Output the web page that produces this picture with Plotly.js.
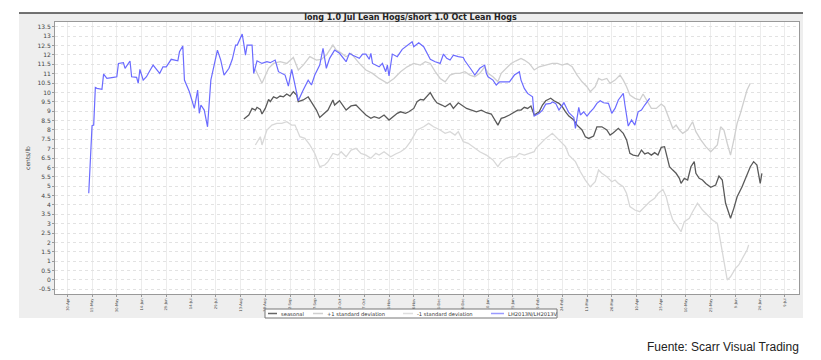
<!DOCTYPE html>
<html>
<head>
<meta charset="utf-8">
<script src="https://cdn.plot.ly/plotly-3.0.1.min.js"></script>
<style>
  html, body { margin: 0; padding: 0; background: #ffffff; }
  #chart { width: 821px; height: 360px; }
</style>
</head>
<body>
<div id="chart"></div>
<script>
// ---- Data ----
const spreadName = "LH2013N/LH2013V";
const spreadDates = ["2012-05-13","2012-05-15","2012-05-16","2012-05-17","2012-05-18","2012-05-21","2012-05-22","2012-05-24","2012-05-28","2012-05-30","2012-05-31","2012-06-03","2012-06-04","2012-06-07","2012-06-08","2012-06-11","2012-06-12","2012-06-13","2012-06-15","2012-06-17","2012-06-19","2012-06-21","2012-06-25","2012-06-27","2012-06-29","2012-07-02","2012-07-06","2012-07-07","2012-07-09","2012-07-10","2012-07-13","2012-07-16","2012-07-18","2012-07-19","2012-07-20","2012-07-22","2012-07-24","2012-07-26","2012-07-30","2012-08-01","2012-08-03","2012-08-06","2012-08-08","2012-08-10","2012-08-11","2012-08-14","2012-08-15","2012-08-16","2012-08-17","2012-08-20","2012-08-21","2012-08-23","2012-08-26","2012-08-29","2012-08-31","2012-09-03","2012-09-05","2012-09-09","2012-09-11","2012-09-13","2012-09-15","2012-09-17","2012-09-20","2012-09-23","2012-09-25","2012-09-27","2012-09-30","2012-10-02","2012-10-04","2012-10-06","2012-10-09","2012-10-12","2012-10-16","2012-10-18","2012-10-20","2012-10-24","2012-10-26","2012-10-28","2012-10-30","2012-10-31","2012-11-01","2012-11-05","2012-11-07","2012-11-09","2012-11-10","2012-11-11","2012-11-13","2012-11-16","2012-11-19","2012-11-22","2012-11-25","2012-11-26","2012-11-29","2012-12-02","2012-12-06","2012-12-09","2012-12-12","2012-12-14","2012-12-16","2012-12-18","2012-12-20","2012-12-23","2012-12-26","2012-12-27","2012-12-29","2012-12-31","2013-01-02","2013-01-05","2013-01-08","2013-01-09","2013-01-10","2013-01-13","2013-01-15","2013-01-17","2013-01-20","2013-01-23","2013-01-26","2013-01-29","2013-01-30","2013-02-01","2013-02-03","2013-02-06","2013-02-07","2013-02-10","2013-02-12","2013-02-14","2013-02-17","2013-02-18","2013-02-20","2013-02-22","2013-02-25","2013-02-28","2013-03-03","2013-03-04","2013-03-06","2013-03-07","2013-03-09","2013-03-11","2013-03-13","2013-03-15","2013-03-17","2013-03-19","2013-03-21","2013-03-24","2013-03-26","2013-03-28","2013-03-30","2013-04-02","2013-04-03","2013-04-05","2013-04-07","2013-04-09","2013-04-11","2013-04-13","2013-04-15","2013-04-18"];
const spreadValues = [4.62,8.23,8.26,10.27,10.22,10.17,10.98,10.75,10.81,10.84,11.55,11.59,11.29,11.68,10.84,10.81,10.49,11.23,10.66,10.84,11.16,11.46,11.02,11.37,11.37,11.77,11.69,12.17,12.48,10.66,10.04,9.15,10.13,8.89,9.33,9.06,8.17,10.66,12.26,11.73,10.93,11.29,11.77,12.53,12.53,13.12,12.58,11.99,12.53,12.53,11.02,11.69,11.55,11.64,11.59,11.73,11.11,10.93,10.34,11.23,10.40,9.56,10.13,10.66,10.40,10.93,11.46,12.35,11.29,11.82,12.26,12.09,11.64,12.09,11.99,11.82,12.05,12.05,11.77,12.09,11.55,11.37,11.55,11.11,11.46,10.88,12.05,11.91,12.30,12.53,12.71,12.44,12.65,12.44,11.77,11.64,11.55,12.05,11.82,11.73,11.99,11.91,11.87,11.69,11.46,11.20,10.93,11.29,11.46,11.02,10.84,10.66,10.40,10.57,10.57,10.57,10.93,11.11,10.66,10.22,9.95,9.77,8.74,8.89,9.06,9.38,9.42,9.50,9.42,9.06,9.45,8.92,8.67,8.09,9.21,8.80,8.97,8.74,8.97,9.15,9.42,9.56,9.45,9.42,8.89,9.15,9.60,9.95,9.33,8.21,8.53,8.26,8.97,9.06,9.33,9.69];

const seasonalName = "seasonal";
const seasonalDates = ["2012-08-15","2012-08-18","2012-08-20","2012-08-22","2012-08-23","2012-08-25","2012-08-26","2012-08-28","2012-08-30","2012-08-31","2012-09-02","2012-09-04","2012-09-06","2012-09-08","2012-09-10","2012-09-12","2012-09-14","2012-09-16","2012-09-17","2012-09-20","2012-09-23","2012-09-26","2012-09-28","2012-09-30","2012-10-03","2012-10-05","2012-10-08","2012-10-09","2012-10-12","2012-10-14","2012-10-16","2012-10-19","2012-10-22","2012-10-25","2012-10-28","2012-10-31","2012-11-02","2012-11-05","2012-11-08","2012-11-11","2012-11-14","2012-11-16","2012-11-18","2012-11-21","2012-11-23","2012-11-26","2012-11-28","2012-11-30","2012-12-02","2012-12-04","2012-12-06","2012-12-08","2012-12-10","2012-12-13","2012-12-15","2012-12-18","2012-12-20","2012-12-23","2012-12-26","2012-12-28","2012-12-31","2013-01-03","2013-01-06","2013-01-09","2013-01-12","2013-01-14","2013-01-16","2013-01-18","2013-01-20","2013-01-23","2013-01-25","2013-01-28","2013-01-30","2013-02-01","2013-02-03","2013-02-05","2013-02-07","2013-02-10","2013-02-12","2013-02-14","2013-02-17","2013-02-19","2013-02-22","2013-02-24","2013-02-26","2013-02-28","2013-03-03","2013-03-05","2013-03-08","2013-03-10","2013-03-12","2013-03-15","2013-03-17","2013-03-20","2013-03-23","2013-03-25","2013-03-27","2013-03-29","2013-03-30","2013-04-02","2013-04-04","2013-04-06","2013-04-08","2013-04-11","2013-04-13","2013-04-15","2013-04-17","2013-04-19","2013-04-21","2013-04-23","2013-04-25","2013-04-27","2013-04-29","2013-04-30","2013-05-02","2013-05-04","2013-05-06","2013-05-07","2013-05-09","2013-05-11","2013-05-13","2013-05-15","2013-05-16","2013-05-18","2013-05-20","2013-05-22","2013-05-25","2013-05-28","2013-05-30","2013-06-01","2013-06-03","2013-06-06","2013-06-08","2013-06-10","2013-06-13","2013-06-15","2013-06-18","2013-06-20","2013-06-22","2013-06-24","2013-06-25"];
const seasonalValues = [8.58,8.80,9.15,9.06,9.21,9.10,8.85,9.15,9.63,9.51,9.77,9.69,9.81,9.77,9.92,9.81,10.04,9.86,9.51,9.60,9.77,9.33,9.06,8.67,8.89,9.06,9.60,9.33,9.56,9.33,9.06,9.28,9.33,9.06,8.80,8.62,8.71,8.62,8.80,8.53,8.74,8.89,8.97,8.89,8.97,9.15,9.51,9.63,9.60,9.81,9.99,9.69,9.45,9.33,9.24,9.42,9.15,9.45,9.24,9.15,9.06,8.97,9.06,8.92,8.85,8.56,8.26,8.62,8.67,8.80,8.89,9.06,9.06,9.21,9.15,9.28,8.80,8.97,9.33,9.56,9.69,9.56,9.42,9.24,8.97,8.74,8.53,8.26,8.00,7.64,7.55,7.68,8.17,8.17,8.00,7.73,7.85,8.00,8.09,7.82,7.47,6.75,6.66,6.61,6.93,6.72,6.79,6.66,6.79,6.66,7.07,7.11,6.49,6.04,5.86,5.69,5.42,5.15,5.42,5.33,6.04,6.31,5.69,5.42,5.33,5.15,4.94,5.06,5.54,5.33,4.09,3.29,3.82,4.44,4.97,5.42,6.04,6.31,6.13,5.15,5.69];

const upperName = "+1 standard deviation";
const upperDates = ["2012-08-22","2012-08-26","2012-08-30","2012-09-02","2012-09-06","2012-09-10","2012-09-14","2012-09-17","2012-09-20","2012-09-24","2012-09-28","2012-10-01","2012-10-04","2012-10-08","2012-10-10","2012-10-12","2012-10-16","2012-10-19","2012-10-24","2012-10-28","2012-11-01","2012-11-05","2012-11-10","2012-11-14","2012-11-18","2012-11-22","2012-11-26","2012-11-30","2012-12-03","2012-12-06","2012-12-09","2012-12-12","2012-12-15","2012-12-18","2012-12-21","2012-12-24","2012-12-27","2012-12-30","2013-01-02","2013-01-05","2013-01-08","2013-01-10","2013-01-13","2013-01-16","2013-01-18","2013-01-21","2013-01-24","2013-01-27","2013-01-30","2013-02-01","2013-02-04","2013-02-07","2013-02-10","2013-02-14","2013-02-18","2013-02-21","2013-02-24","2013-02-27","2013-03-02","2013-03-05","2013-03-08","2013-03-11","2013-03-13","2013-03-16","2013-03-18","2013-03-20","2013-03-23","2013-03-25","2013-03-28","2013-03-31","2013-04-02","2013-04-04","2013-04-06","2013-04-09","2013-04-12","2013-04-14","2013-04-16","2013-04-19","2013-04-22","2013-04-25","2013-04-27","2013-04-30","2013-05-02","2013-05-04","2013-05-06","2013-05-08","2013-05-11","2013-05-14","2013-05-16","2013-05-19","2013-05-22","2013-05-25","2013-05-29","2013-05-31","2013-06-02","2013-06-04","2013-06-06","2013-06-08","2013-06-10","2013-06-12","2013-06-14","2013-06-16","2013-06-18"];
const upperValues = [11.23,10.49,11.29,11.55,11.64,11.55,11.87,11.20,11.46,11.91,11.73,11.77,11.99,12.53,12.26,12.17,11.91,12.09,11.55,11.20,11.02,10.75,10.49,10.75,11.11,11.37,11.55,11.46,11.64,11.55,11.11,10.75,10.57,10.93,11.02,11.02,11.11,10.93,10.84,11.02,11.37,11.02,10.84,10.57,11.02,11.29,11.55,11.69,11.82,11.73,11.55,11.20,11.37,11.46,11.55,11.55,11.46,11.55,11.37,10.93,10.57,10.31,10.04,10.31,10.75,10.66,10.75,10.49,10.66,10.93,10.66,10.31,9.86,9.69,9.60,9.92,9.60,9.15,9.15,9.38,9.24,8.53,8.09,8.26,8.00,7.82,8.00,8.44,7.91,7.47,7.11,6.84,7.20,8.17,8.00,7.29,6.66,7.47,8.35,8.89,9.51,10.13,10.49];

const lowerName = "-1 standard deviation";
const lowerDates = ["2012-08-22","2012-08-25","2012-08-26","2012-08-29","2012-09-01","2012-09-04","2012-09-07","2012-09-10","2012-09-13","2012-09-15","2012-09-18","2012-09-21","2012-09-24","2012-09-27","2012-09-30","2012-10-03","2012-10-05","2012-10-08","2012-10-11","2012-10-13","2012-10-16","2012-10-19","2012-10-22","2012-10-25","2012-10-28","2012-10-31","2012-11-03","2012-11-05","2012-11-08","2012-11-12","2012-11-15","2012-11-18","2012-11-21","2012-11-24","2012-11-28","2012-12-02","2012-12-05","2012-12-08","2012-12-12","2012-12-15","2012-12-18","2012-12-21","2012-12-23","2012-12-26","2012-12-29","2013-01-02","2013-01-05","2013-01-09","2013-01-13","2013-01-16","2013-01-18","2013-01-21","2013-01-24","2013-01-27","2013-01-29","2013-02-01","2013-02-04","2013-02-07","2013-02-08","2013-02-11","2013-02-14","2013-02-18","2013-02-20","2013-02-23","2013-02-26","2013-02-28","2013-03-04","2013-03-07","2013-03-10","2013-03-13","2013-03-16","2013-03-18","2013-03-20","2013-03-23","2013-03-26","2013-03-28","2013-03-30","2013-04-02","2013-04-04","2013-04-06","2013-04-09","2013-04-12","2013-04-15","2013-04-18","2013-04-21","2013-04-23","2013-04-26","2013-04-28","2013-04-30","2013-05-02","2013-05-05","2013-05-07","2013-05-09","2013-05-12","2013-05-14","2013-05-17","2013-05-20","2013-05-23","2013-05-26","2013-05-29","2013-05-31","2013-06-02","2013-06-04","2013-06-06","2013-06-09","2013-06-11","2013-06-14","2013-06-16","2013-06-17"];
const lowerValues = [7.20,7.64,7.20,8.00,8.26,8.35,8.35,8.44,8.26,8.26,7.64,7.55,7.20,6.75,6.04,6.13,6.31,6.75,6.66,6.84,6.57,6.93,7.02,6.75,6.66,6.49,6.75,6.66,6.84,6.57,6.72,6.84,7.02,7.38,8.00,8.17,8.35,8.17,8.00,7.82,7.91,7.73,7.91,7.38,7.29,7.02,6.84,6.66,6.40,6.04,6.31,6.49,6.57,6.57,6.75,6.66,6.75,6.84,7.02,7.29,7.55,7.82,7.64,7.38,7.11,6.66,6.31,5.77,5.33,4.97,5.24,5.86,5.69,5.51,5.24,5.33,5.15,4.97,4.61,3.91,3.73,3.64,3.91,4.17,4.35,4.61,4.82,4.44,3.73,3.20,2.84,2.57,3.11,3.29,3.64,4.09,3.73,3.47,3.20,3.02,1.95,0.89,0.00,0.17,0.62,0.80,1.24,1.60,1.87];

const xTickDates = ["2012-04-30","2012-05-15","2012-05-30","2012-06-14","2012-06-29","2012-07-14","2012-07-29","2012-08-13","2012-08-28","2012-09-12","2012-09-27","2012-10-12","2012-10-27","2012-11-11","2012-11-26","2012-12-11","2012-12-26","2013-01-10","2013-01-25","2013-02-09","2013-02-24","2013-03-11","2013-03-26","2013-04-10","2013-04-25","2013-05-10","2013-05-25","2013-06-09","2013-06-24","2013-07-09"];
const xTickLabels = ["30-Apr","15-May","30-May","14-Jun","29-Jun","14-Jul","29-Jul","13-Aug","28-Aug","12-Sep","27-Sep","12-Oct","27-Oct","11-Nov","26-Nov","11-Dec","26-Dec","10-Jan","25-Jan","9-Feb","24-Feb","11-Mar","26-Mar","10-Apr","25-Apr","10-May","25-May","9-Jun","24-Jun","9-Jul"];
const yTickValues = [-0.5,0,0.5,1,1.5,2,2.5,3,3.5,4,4.5,5,5.5,6,6.5,7,7.5,8,8.5,9,9.5,10,10.5,11,11.5,12,12.5,13,13.5];
const yTickLabels = ["-0.5","0","0.5","1","1.5","2","2.5","3","3.5","4","4.5","5","5.5","6","6.5","7","7.5","8","8.5","9","9.5","10","10.5","11","11.5","12","12.5","13","13.5"];

const chartTitle = "long 1.0 Jul Lean Hogs/short 1.0 Oct Lean Hogs";
const yTitle = "cents/lb";
const sourceText = "Fuente: Scarr Visual Trading";

// ---- Styles ----
const seriesNames = [seasonalName, upperName, lowerName, spreadName];
const seriesColors = ["#5a5a5a", "#cfcfcf", "#d8d8d8", "#6b6bff"];
const legendColors = ["#666666", "#cfcfcf", "#dedede", "#9a9aff"];

const traces = [
  { x: seasonalDates, y: seasonalValues, name: seasonalName, type: "scatter", mode: "lines",
    line: { color: seriesColors[0], width: 1.3 } },
  { x: upperDates, y: upperValues, name: upperName, type: "scatter", mode: "lines",
    line: { color: seriesColors[1], width: 1.3 } },
  { x: lowerDates, y: lowerValues, name: lowerName, type: "scatter", mode: "lines",
    line: { color: seriesColors[2], width: 1.3 } },
  { x: spreadDates, y: spreadValues, name: spreadName, type: "scatter", mode: "lines",
    line: { color: seriesColors[3], width: 1.2 } }
];

// pixel helpers for layout-only elements (plot area spans x 55..799, y 22..294)
const PX = px => (px - 55) / 744;
const PY = py => (294 - py) / 272;

// compact legend (like the source image): box + short line swatches + labels
const legendBox = { x0: 265, x1: 557, y0: 309, y1: 318 };
const legendLineX = [[268, 277], [313, 323], [403, 413], [491, 504]];
const legendTextX = [279, 325, 415, 506];
const legendY = 313.5;

const shapes = [
  { type: "rect", xref: "paper", yref: "paper", layer: "below",
    x0: PX(19), x1: PX(803), y0: PY(318), y1: PY(13),
    fillcolor: "#eeeeee", line: { width: 0 } },
  { type: "rect", xref: "paper", yref: "paper", layer: "below",
    x0: 0, x1: 1, y0: 0, y1: 1, fillcolor: "#ffffff", line: { width: 0 } },
  { type: "line", xref: "paper", yref: "paper", layer: "below",
    x0: PX(19), x1: PX(803), y0: PY(13), y1: PY(13),
    line: { color: "#444", width: 1.5 } },
  { type: "rect", xref: "paper", yref: "paper", layer: "above",
    x0: PX(legendBox.x0), x1: PX(legendBox.x1), y0: PY(legendBox.y1), y1: PY(legendBox.y0),
    fillcolor: "#ffffff", line: { color: "#777", width: 1 } }
];
const annotations = [
  { text: sourceText, xref: "paper", yref: "paper", x: PX(801), y: PY(347),
    xanchor: "right", yanchor: "middle", showarrow: false,
    font: { family: "Liberation Sans, Arial, sans-serif", size: 12, color: "#222" } }
];
seriesNames.forEach((nm, i) => {
  shapes.push({ type: "line", xref: "paper", yref: "paper", layer: "above",
    x0: PX(legendLineX[i][0]), x1: PX(legendLineX[i][1]), y0: PY(legendY), y1: PY(legendY),
    line: { color: legendColors[i], width: 1.5 } });
  annotations.push({ text: nm, xref: "paper", yref: "paper", x: PX(legendTextX[i]), y: PY(legendY),
    xanchor: "left", yanchor: "middle", showarrow: false,
    font: { family: "DejaVu Sans", size: 5.2, color: "#333" } });
});

const layout = {
  width: 821, height: 360,
  margin: { l: 55, r: 22, t: 22, b: 66, pad: 0 },
  paper_bgcolor: "#ffffff",
  plot_bgcolor: "#ffffff",
  showlegend: false,
  title: {
    text: chartTitle,
    font: { family: "DejaVu Sans", size: 8, color: "#222", weight: "bold" },
    x: 0.5, xanchor: "center", y: 1 - 17.5 / 360, yanchor: "middle", yref: "container"
  },
  font: { family: "DejaVu Sans", size: 6, color: "#444" },
  xaxis: {
    type: "date",
    range: ["2012-04-22 13:00", "2013-07-17 12:00"],
    tickmode: "array", tickvals: xTickDates, ticktext: xTickLabels,
    tickangle: -90,
    tickfont: { family: "DejaVu Sans", size: 3.7, color: "#444" },
    ticks: "outside", ticklen: 2, tickcolor: "#999",
    showgrid: true, gridcolor: "#ececec", gridwidth: 1,
    showline: true, linecolor: "#999", linewidth: 1, mirror: true,
    zeroline: false, fixedrange: true
  },
  yaxis: {
    range: [-0.75, 13.76],
    tickmode: "array", tickvals: yTickValues, ticktext: yTickLabels,
    tickfont: { family: "DejaVu Sans", size: 6, color: "#444" },
    ticks: "outside", ticklen: 2, tickcolor: "#999",
    showgrid: true, gridcolor: "#e2e2e2", gridwidth: 1, griddash: "dot",
    showline: true, linecolor: "#999", linewidth: 1, mirror: true,
    zeroline: false, fixedrange: true,
    title: { text: yTitle, font: { family: "DejaVu Sans", size: 6, color: "#444" }, standoff: 6 }
  },
  shapes: shapes,
  annotations: annotations
};

Plotly.newPlot("chart", traces, layout, { displayModeBar: false, staticPlot: true });
</script>
</body>
</html>
